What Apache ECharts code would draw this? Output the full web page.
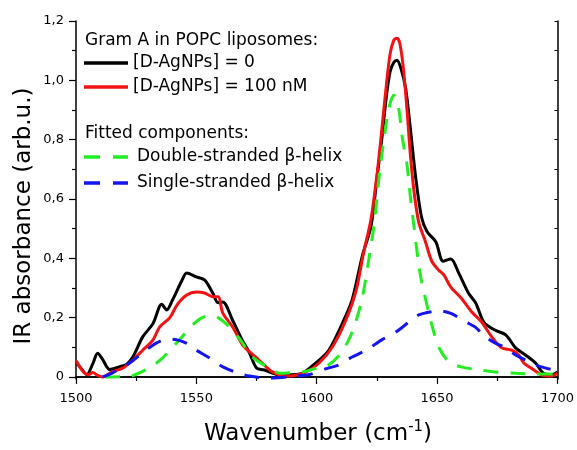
<!DOCTYPE html>
<html lang="en">
<head>
    <meta charset="UTF-8">
    <title>Gram A IR absorbance</title>
    <script src="https://cdn.jsdelivr.net/npm/echarts@6/dist/echarts.min.js"></script>
    <style>
        html, body, #chart {
            width: 577px;
            height: 450px;
            padding: 0;
            margin: 0;
            background: #fff;
        }
    </style>
</head>
<body>
<div id="chart"></div>
<script>
    // [wavenumber, absorbance]
    var noAgNP = [
        [1500, 0.05], [1502, 0.03], [1504.5, 0.008], [1507, 0.045], [1509, 0.08], [1511, 0.06],
        [1514, 0.025], [1518, 0.034], [1521, 0.042], [1523.6, 0.067], [1527.7, 0.135], [1532, 0.18],
        [1535.6, 0.245], [1537.7, 0.226], [1540, 0.258], [1544, 0.325], [1546, 0.35], [1550, 0.337],
        [1553.4, 0.327], [1556.8, 0.283], [1559, 0.25], [1561, 0.253], [1565, 0.192], [1569, 0.125],
        [1572, 0.082], [1575, 0.03], [1578, 0.024], [1584.5, 0.007], [1593, 0.01], [1600, 0.05],
        [1605, 0.09], [1610.6, 0.18], [1614.7, 0.26], [1619, 0.41], [1622.6, 0.51], [1625, 0.67],
        [1627, 0.8], [1629, 0.95], [1630.5, 1.03], [1632, 1.06], [1633.3, 1.068], [1635, 1.04],
        [1637, 0.97], [1639, 0.83], [1641, 0.68], [1643.5, 0.54], [1645.8, 0.49], [1649.5, 0.455],
        [1652.5, 0.39], [1655.7, 0.398], [1659, 0.35], [1663, 0.283], [1666, 0.25], [1669.4, 0.185],
        [1674, 0.158], [1678.5, 0.142], [1682.6, 0.098], [1686.7, 0.074], [1690.9, 0.047],
        [1694, 0.013], [1697.5, 0.007], [1700, 0.017]
    ];
    var agNP100 = [
        [1500, 0.055], [1503, 0.017], [1505, 0.007], [1507, 0.015], [1509, 0.005], [1511, 0.0],
        [1515, 0.017], [1519.5, 0.03], [1523.6, 0.057], [1527.7, 0.09], [1532, 0.125], [1534.8, 0.169],
        [1539, 0.2], [1542, 0.243], [1546, 0.276], [1550, 0.286], [1553.4, 0.283], [1557, 0.27],
        [1559, 0.27], [1561, 0.215], [1565, 0.169], [1569, 0.11], [1572, 0.085], [1576, 0.057],
        [1581.6, 0.017], [1588.6, 0.003], [1595.6, 0.017], [1601, 0.047], [1606.4, 0.1], [1612, 0.19],
        [1616.4, 0.293], [1619.5, 0.42], [1622.5, 0.53], [1625, 0.68], [1627, 0.83], [1629, 0.99],
        [1630.5, 1.09], [1632, 1.135], [1633.3, 1.142], [1634.5, 1.125], [1636, 1.04], [1637.5, 0.9],
        [1639, 0.74], [1640.5, 0.62], [1642.4, 0.52], [1645, 0.46], [1647.8, 0.39], [1650.7, 0.36],
        [1652.8, 0.344], [1655.7, 0.303], [1660, 0.266], [1664.4, 0.219], [1668.5, 0.185],
        [1672.7, 0.135], [1676.8, 0.098], [1681, 0.09], [1683.9, 0.074], [1686, 0.047], [1689, 0.03],
        [1693.4, 0.007], [1697.5, 0.003], [1700, 0.013]
    ];
    var doubleHelix = [
        [1512, 0.0], [1522, 0.002], [1529, 0.024], [1535, 0.057], [1540, 0.098], [1544, 0.135],
        [1548.4, 0.175], [1552, 0.198], [1556, 0.208], [1559, 0.2], [1562.5, 0.178], [1568, 0.128],
        [1573.3, 0.067], [1580.3, 0.03], [1585, 0.012], [1590, 0.015], [1595, 0.018], [1600, 0.03],
        [1604, 0.036], [1609, 0.07], [1613, 0.12], [1616, 0.18], [1619, 0.27], [1621.5, 0.39],
        [1623.8, 0.512], [1626, 0.68], [1628, 0.805], [1630, 0.907], [1632, 0.95], [1634, 0.907],
        [1635.4, 0.815], [1637.5, 0.715], [1639, 0.6], [1641.2, 0.455], [1642.4, 0.377],
        [1643.7, 0.316], [1646.6, 0.215], [1648, 0.17], [1650.7, 0.1], [1655, 0.05], [1660, 0.034],
        [1667, 0.024], [1675, 0.016], [1682.6, 0.012], [1691, 0.01], [1700, 0.01]
    ];
    var singleHelix = [
        [1511, 0.0], [1515, 0.013], [1521, 0.04], [1525, 0.064], [1529, 0.09], [1533.5, 0.115],
        [1538, 0.128], [1542, 0.125], [1546, 0.113], [1550, 0.09], [1555.5, 0.064], [1561, 0.034],
        [1566.7, 0.015], [1572, 0.003], [1580, -0.004], [1590, 0.002], [1597, 0.008], [1604, 0.028],
        [1609, 0.04], [1614.7, 0.067], [1620.5, 0.09], [1627, 0.125], [1633, 0.152], [1638.3, 0.185],
        [1642.4, 0.209], [1647.8, 0.22], [1651.5, 0.222], [1656, 0.213], [1662, 0.185], [1666, 0.167],
        [1670, 0.135], [1674, 0.115], [1678.5, 0.098], [1682.6, 0.074], [1686.7, 0.057],
        [1692, 0.037], [1698, 0.024], [1700, 0.022]
    ];

    var yLabels = [0, 0.2, 0.4, 0.6, 0.8, 1.0, 1.2];
    var yMinor = [0.1, 0.3, 0.5, 0.7, 0.9, 1.1];
    var yAll = [0, 0.1, 0.2, 0.3, 0.4, 0.5, 0.6, 0.7, 0.8, 0.9, 1.0, 1.1, 1.2];
    var xTop = [1525, 1575, 1625, 1675];

    var FONT = "DejaVu Sans";
    var yMin = -0.007, yMax = 1.2;

    var myChart = echarts.init(document.getElementById("chart"));

    function curve(name, data, color, dashed) {
        return {
            name: name,
            type: "line",
            data: data,
            smooth: 0.3,
            showSymbol: false,
            symbol: "none",
            lineStyle: {
                color: color,
                width: 3,
                type: dashed ? [15, 12] : "solid"
            },
            animation: false
        };
    }

    function legendRow(y, color, dashed, label, textX) {
        return [{
            type: "line",
            shape: {x1: 84, y1: y, x2: 128, y2: y},
            style: {stroke: color, lineWidth: 3.5, lineDash: dashed ? [16, 13] : null}
        }, {
            type: "text",
            x: textX,
            y: y,
            style: {text: label, font: "17px '" + FONT + "'", fill: "#000", verticalAlign: "middle"}
        }];
    }

    myChart.setOption({
        animation: false,
        grid: {left: 76, right: 17, top: 21, bottom: 71},
        xAxis: [{
            type: "value",
            position: "bottom",
            min: 1500,
            max: 1700,
            interval: 50,
            axisLine: {lineStyle: {color: "#000", width: 1.5}},
            axisTick: {length: 7, lineStyle: {color: "#000", width: 1.2}},
            minorTick: {show: true, splitNumber: 2, length: 4, lineStyle: {color: "#000", width: 1.2}},
            axisLabel: {
                color: "#000", fontFamily: FONT, fontSize: 13, margin: 13,
                formatter: function (v) { return String(v); }
            },
            splitLine: {show: false}
        }, {
            type: "value",
            position: "top",
            min: 1500,
            max: 1700,
            axisLine: {show: true, lineStyle: {color: "#000", width: 1.5}},
            axisTick: {inside: true, length: 3, customValues: xTop, lineStyle: {color: "#000"}},
            axisLabel: {show: false},
            splitLine: {show: false}
        }],
        yAxis: [{
            type: "value",
            position: "left",
            min: yMin,
            max: yMax,
            axisLine: {show: true, lineStyle: {color: "#000", width: 1.5}},
            axisTick: {show: true, length: 7, customValues: yLabels, lineStyle: {color: "#000", width: 1.2}},
            axisLabel: {
                color: "#000", fontFamily: FONT, fontSize: 13, margin: 12,
                customValues: yLabels,
                formatter: function (v) {
                    return v === 0 ? "0" : v.toFixed(1).replace(".", ",");
                }
            },
            splitLine: {show: false}
        }, {
            type: "value",
            position: "left",
            min: yMin,
            max: yMax,
            axisLine: {show: false},
            axisTick: {show: true, length: 4, customValues: yMinor, lineStyle: {color: "#000", width: 1.2}},
            axisLabel: {show: false},
            splitLine: {show: false}
        }, {
            type: "value",
            position: "right",
            min: yMin,
            max: yMax,
            axisLine: {show: true, lineStyle: {color: "#000", width: 1.5}},
            axisTick: {show: true, inside: true, length: 3, customValues: yAll, lineStyle: {color: "#000"}},
            axisLabel: {show: false},
            splitLine: {show: false}
        }],
        series: [
            curve("[D-AgNPs] = 0", noAgNP, "#000000", false),
            curve("[D-AgNPs] = 100 nM", agNP100, "#f21212", false),
            curve("Double-stranded β-helix", doubleHelix, "#22ee22", true),
            curve("Single-stranded β-helix", singleHelix, "#1414f0", true)
        ],
        graphic: [
            {
                type: "text",
                x: 85,
                y: 41,
                style: {text: "Gram A in POPC liposomes:", font: "17px '" + FONT + "'", fill: "#000", verticalAlign: "middle"}
            },
            {
                type: "text",
                x: 85,
                y: 134,
                style: {text: "Fitted components:", font: "17px '" + FONT + "'", fill: "#000", verticalAlign: "middle"}
            }
        ].concat(
            legendRow(63, "#000000", false, "[D-AgNPs] = 0", 133),
            legendRow(87, "#f21212", false, "[D-AgNPs] = 100 nM", 133),
            legendRow(157, "#22ee22", true, "Double-stranded β-helix", 137),
            legendRow(183, "#1414f0", true, "Single-stranded β-helix", 137),
            [{
                type: "text",
                x: 24,
                y: 216,
                rotation: Math.PI / 2,
                style: {
                    text: "IR absorbance (arb.u.)",
                    font: "23px '" + FONT + "'",
                    fill: "#000",
                    align: "center",
                    verticalAlign: "middle"
                }
            }, {
                type: "text",
                x: 318,
                y: 434,
                style: {
                    text: "{a|Wavenumber (cm}{s|-1}{a|)}",
                    fill: "#000",
                    align: "center",
                    verticalAlign: "middle",
                    rich: {
                        a: {fontFamily: FONT, fontSize: 23, fill: "#000"},
                        s: {fontFamily: FONT, fontSize: 15, fill: "#000", padding: [0, 0, 14, 0]}
                    }
                }
            }]
        )
    });
</script>
</body>
</html>
